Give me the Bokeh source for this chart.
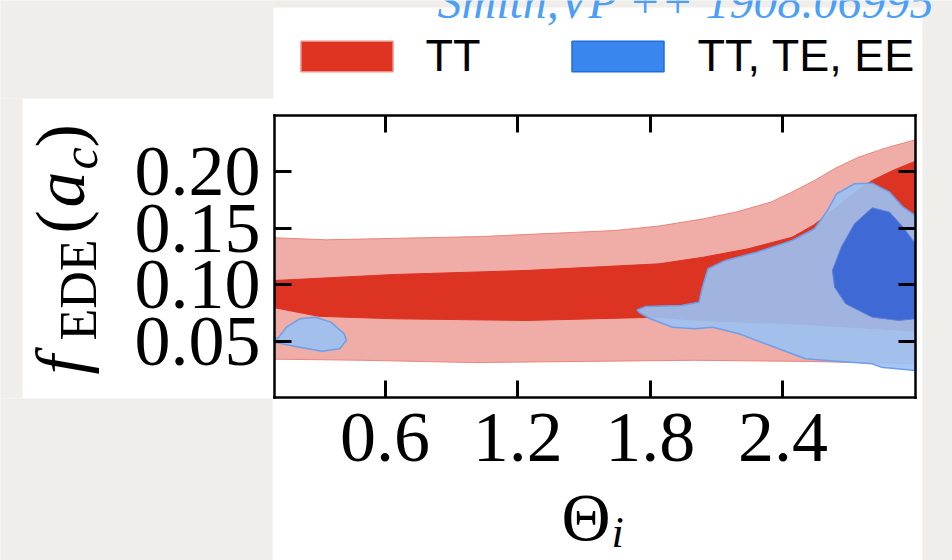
from math import pi
from bokeh.plotting import figure
from bokeh.models import (Range1d, LinearAxis, FixedTicker, Label, BoxAnnotation,
                          Legend, LegendItem, GlobalInlineStyleSheet)
from bokeh.embed import file_html
from bokeh.resources import INLINE

# ---------------- data ----------------
x_ticks = [0.6, 1.2, 1.8, 2.4]
x_tick_labels = ["0.6", "1.2", "1.8", "2.4"]
y_ticks = [0.05, 0.10, 0.15, 0.20]
y_tick_labels = ["0.05", "0.10", "0.15", "0.20"]
x_lim = (0.1, 3.0)
y_lim = (0.0, 0.25)

# TT 95% band
tt95_up_x = [0.10, 0.335, 1.037, 1.638, 1.84, 2.041, 2.19, 2.344, 2.44, 2.543, 2.64, 2.742, 2.87, 3.0]
tt95_up_y = [0.1416, 0.1398, 0.1427, 0.1480, 0.1520, 0.1584, 0.1645, 0.1731, 0.1820, 0.1924,
             0.2035, 0.2130, 0.2215, 0.2285]
tt95_lo_x = [0.10, 0.5, 1.0, 1.5, 2.0, 2.5, 3.0]
tt95_lo_y = [0.034, 0.033, 0.031, 0.032, 0.033, 0.032, 0.030]
# TT 68% band
tt68_up_x = [0.10, 0.636, 1.238, 1.840, 2.041, 2.242, 2.442, 2.54, 2.643, 2.72, 2.804, 2.90, 3.0]
tt68_up_y = [0.1037, 0.109, 0.1126, 0.1185, 0.1244, 0.1318, 0.1421, 0.1530, 0.1687, 0.1810,
             0.1924, 0.2015, 0.2095]
tt68_lo_x = [0.10, 0.3, 0.636, 1.238, 1.840, 2.041, 2.442, 3.0]
tt68_lo_y = [0.0796, 0.072, 0.0698, 0.0683, 0.0712, 0.068, 0.0654, 0.059]

# TT,TE,EE 95% region (right) and small island (left)
all95_x = [1.740, 1.780, 1.940, 2.021, 2.036, 2.061, 2.140, 2.281, 2.442, 2.543, 2.602,
           2.643, 2.724, 2.804, 2.883, 2.944, 3.0, 3.0, 2.844, 2.804, 2.643, 2.502,
           2.342, 2.202, 2.082, 2.000, 1.901, 1.800, 1.756]
all95_y = [0.0777, 0.0807, 0.0816, 0.0845, 0.0978, 0.1141, 0.1215, 0.1288, 0.1392, 0.1496,
           0.1658, 0.1806, 0.1895, 0.1900, 0.1820, 0.1687, 0.1613, 0.0239, 0.0269, 0.0299,
           0.0322, 0.0343, 0.0461, 0.0565, 0.0623, 0.0609, 0.0623, 0.0698, 0.0745]
isl_x = [0.10, 0.1136, 0.154, 0.2145, 0.2846, 0.3547, 0.4153, 0.4253, 0.395, 0.315,
         0.2145, 0.134, 0.10]
isl_y = [0.054, 0.0520, 0.0623, 0.0698, 0.0712, 0.0668, 0.0565, 0.0505, 0.0432, 0.0410,
         0.0446, 0.0476, 0.049]
# TT,TE,EE 68% region
all68_x = [2.804, 2.724, 2.664, 2.624, 2.634, 2.684, 2.804, 2.924, 3.0, 3.0, 2.944, 2.883]
all68_y = [0.1682, 0.1540, 0.1332, 0.1126, 0.0978, 0.0831, 0.0712, 0.0683, 0.0698, 0.1363,
           0.1510, 0.1643]

# ---------------- layout (pixels of the page) ----------------
W, H = 952, 560
PL, PR, PT, PB = 274, 915, 115, 397   # plot box edges


def dx(px):
    return x_lim[0] + (px - PL) * (x_lim[1] - x_lim[0]) / (PR - PL)


def dy(py):
    return y_lim[0] + (PB - py) * (y_lim[1] - y_lim[0]) / (PB - PT)


# the frame covers the whole canvas; the axes sit at fixed data locations
p = figure(frame_width=W, frame_height=H, min_border=0,
           min_border_left=0, min_border_right=0, min_border_top=0, min_border_bottom=0,
           x_range=Range1d(dx(0), dx(W)), y_range=Range1d(dy(H), dy(0)),
           x_axis_location=None, y_axis_location=None,
           output_backend="svg", toolbar_location=None,
           background_fill_color="white", border_fill_color="white")
p.stylesheets = [GlobalInlineStyleSheet(css="body{background:#efeeeb;}")]
p.grid.visible = False
p.outline_line_color = None

# grey slide background around the white picture
GREY = "#efeeeb"
for (l, r, t, b) in [(0, 273, 0, 98), (0, 272, 398, H), (0, 22, 98, 398),
                     (922, W, 0, H), (273, 922, 0, 7)]:
    p.add_layout(BoxAnnotation(left=dx(l), right=dx(r), top=dy(t), bottom=dy(b),
                               fill_color=GREY, fill_alpha=1, line_alpha=0, level="underlay"))

# contours
tt95_x = tt95_up_x + tt95_lo_x[::-1]
tt95_y = tt95_up_y + tt95_lo_y[::-1]
tt68_x = tt68_up_x + tt68_lo_x[::-1]
tt68_y = tt68_up_y + tt68_lo_y[::-1]
p.patch(tt95_x, tt95_y, fill_color="#f0aca7", line_color="#ea857c", line_width=1)
p.patch(tt68_x, tt68_y, fill_color="#dc3322", line_color="#dc3322", line_width=1)
p.patch(all95_x, all95_y, fill_color="#9ac1f4", fill_alpha=0.9,
        line_color="#6d9fe8", line_width=1.5)
p.patch(isl_x, isl_y, fill_color="#9ac1f4", fill_alpha=0.9,
        line_color="#6d9fe8", line_width=1.5)
p.patch(all68_x, all68_y, fill_color="#3a65d4", fill_alpha=0.95,
        line_color="#5a80dc", line_width=1)

# legend: hidden copies of the regions carry the legend colours
r_tt = p.patch(tt68_x, tt68_y, fill_color="#de3421", line_color="#ee8f86",
               line_width=1.5, visible=False)
r_all = p.patch(all95_x, all95_y, fill_color="#3886ee", line_color="#1f6de0",
                line_width=1.5, visible=False)
legend = Legend(items=[LegendItem(label="TT", renderers=[r_tt]),
                       LegendItem(label="TT, TE, EE", renderers=[r_all])],
                orientation="horizontal", location=(288.5, H - 82),
                glyph_width=115, glyph_height=38, label_standoff=22, spacing=80,
                padding=0, margin=0, border_line_alpha=0, background_fill_alpha=0,
                label_text_font="Liberation Sans", label_text_font_size="45px",
                label_text_color="black", label_height=30, click_policy="none")
p.add_layout(legend)


# axes
def make_axis(ticks, labels, loc, bounds, show):
    ax = LinearAxis(ticker=FixedTicker(ticks=ticks), fixed_location=loc, bounds=bounds)
    ax.axis_line_color = "black"
    ax.axis_line_width = 2.5
    ax.axis_line_cap = "square"
    ax.major_tick_in = 17
    ax.major_tick_out = 0
    ax.major_tick_line_width = 3
    ax.major_tick_line_color = "black"
    ax.minor_tick_line_color = None
    ax.major_label_text_font = "Liberation Serif"
    ax.major_label_text_font_size = "72px"
    ax.major_label_text_color = "black"
    if show:
        ax.major_label_overrides = dict(zip(ticks, labels))
    else:
        ax.major_label_overrides = {t: "" for t in ticks}
    return ax


xb = make_axis(x_ticks, x_tick_labels, y_lim[0], x_lim, True)
xb.major_label_standoff = 16
p.add_layout(xb, "below")
xt = make_axis(x_ticks, x_tick_labels, y_lim[1], x_lim, False)
p.add_layout(xt, "above")
yl = make_axis(y_ticks, y_tick_labels, x_lim[0], y_lim, True)
yl.major_label_standoff = 14
p.add_layout(yl, "left")
yr = make_axis(y_ticks, y_tick_labels, x_lim[1], y_lim, False)
p.add_layout(yr, "right")

# text pieces: (px, py) is the wanted baseline start on the page
K = 0.38  # measured shift of Bokeh's alphabetic anchor, in em


def lab(text, px, py, size, style="normal", rotated=False, color="black", font="Liberation Serif"):
    if rotated:
        px = px - K * size
        angle = pi / 2
    else:
        py = py - K * size
        angle = 0.0
    p.add_layout(Label(x=dx(px), y=dy(py), text=text, angle=angle,
                       text_font=font, text_font_size=f"{size}px", text_font_style=style,
                       text_color=color, text_align="left", text_baseline="alphabetic"))


# y label: f_EDE(a_c), rotated (reads bottom to top)
lab("f", 87, 374, 70, "italic", True)
lab("EDE", 98, 340, 52, "normal", True)
lab("(", 87, 233, 70, "normal", True)
lab("a", 87, 207, 72, "italic", True)
lab("c", 98, 169, 50, "italic", True)
lab(")", 87, 147, 70, "normal", True)

# x label: Theta_i
lab("Θ", 561, 542, 68, "normal")
lab("i", 611, 549, 44, "italic")

# citation
lab("Smith,VP ++ 1908.06995", 437, 19, 48, "italic", False, "#4c9ff5")

open("out.html", "w").write(file_html(p, INLINE))
